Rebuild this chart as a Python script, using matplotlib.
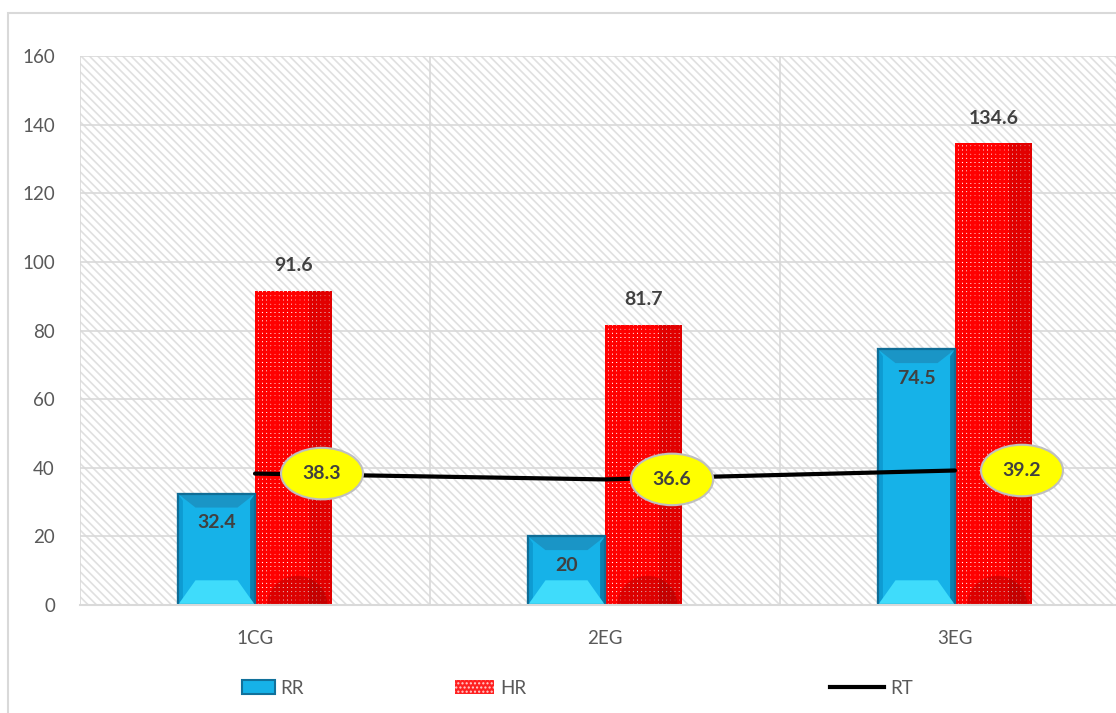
import matplotlib
matplotlib.use("Agg")
import matplotlib.pyplot as plt
from matplotlib.patches import Rectangle, Polygon, Ellipse, Patch
from matplotlib.lines import Line2D
import numpy as np

plt.rcParams['font.family'] = ['Lato', 'DejaVu Sans']
plt.rcParams['hatch.linewidth'] = 1.0

categories = ['1CG', '2EG', '3EG']
rr_values = [32.4, 20, 74.5]
hr_values = [91.6, 81.7, 134.6]
rt_values = [38.3, 36.6, 39.2]
y_ticks = [0, 20, 40, 60, 80, 100, 120, 140, 160]

W, H = 1116, 713
fig = plt.figure(figsize=(W / 100, H / 100), dpi=100)
fig.patch.set_facecolor('white')


def set_hlw(p, v):
    try:
        p.set_hatch_linewidth(v)
    except Exception:
        pass


# outer chart frame (clipped at right/bottom like the reference)
fig.add_artist(Rectangle((8 / W, -0.2), 1.3, 1 - 13 / H + 0.2, transform=fig.transFigure,
                         fill=False, edgecolor='#d9d9d9', lw=1.5, zorder=0))

ax = fig.add_axes([80 / W, 1 - 605 / H, 1050 / W, 549 / H])
ax.set_xlim(-0.5, 2.5)
ax.set_ylim(0, 160)

# hatched plot background
bg = Rectangle((-0.5, 0), 3, 160, facecolor='white', edgecolor='#e0e0e0',
               hatch='\\\\\\\\', lw=0, zorder=0)
set_hlw(bg, 1.2)
ax.add_patch(bg)

for s in ['top', 'right', 'left']:
    ax.spines[s].set_visible(False)
ax.spines['bottom'].set_color('#d9d9d9')
ax.spines['bottom'].set_linewidth(1.5)

ax.set_yticks(y_ticks)
ax.set_yticklabels([str(v) for v in y_ticks], fontsize=13.5, color='#595959')
ax.yaxis.grid(True, color='#d9d9d9', lw=1.2, zorder=0.5)
ax.set_axisbelow(True)
x = np.arange(len(categories))
ax.set_xticks(x)
ax.set_xticklabels(categories, fontsize=13.5, color='#595959')
ax.set_xticks(np.arange(-0.5, len(categories), 1.0), minor=True)
ax.xaxis.grid(True, which='minor', color='#d9d9d9', lw=1.2, zorder=0.5)
ax.tick_params(axis='both', which='both', length=0)
ax.tick_params(axis='x', pad=18)
ax.tick_params(axis='y', pad=18)

bw = 0.22
# RR bars with bevel effect
rr_bars = ax.bar(x - bw / 2, rr_values, bw, color='#16b2e8', edgecolor='#11719b', lw=1.5, zorder=2)
for b in rr_bars:
    x0, w, h = b.get_x(), b.get_width(), b.get_height()
    x1 = x0 + w
    ds = 0.014
    db = 0.05
    vb = min(7.2, h / 2.5)
    vt = 4.0
    # side bevels
    ax.add_patch(Polygon([[x0, 0], [x0, h], [x0 + ds, h - 2], [x0 + ds, 2]],
                         closed=True, facecolor='#0e9bd2', edgecolor='none', zorder=2.1))
    ax.add_patch(Polygon([[x1, 0], [x1, h], [x1 - ds, h - 2], [x1 - ds, 2]],
                         closed=True, facecolor='#0b7fae', edgecolor='none', zorder=2.1))
    # top bevel (darker)
    ax.add_patch(Polygon([[x0, h], [x1, h], [x1 - db, h - vt], [x0 + db, h - vt]],
                         closed=True, facecolor='#1a95c6', edgecolor='none', zorder=2.15))
    # bottom bevel (light cyan)
    ax.add_patch(Polygon([[x0, 0], [x1, 0], [x1 - db, vb], [x0 + db, vb]],
                         closed=True, facecolor='#3fdcfb', edgecolor='none', zorder=2.15))
    ax.add_patch(Rectangle((x0, 0), w, h, fill=False, edgecolor='#0f6d96', lw=1.6, zorder=2.2))

# HR bars: red grid over white (white dots look) and darker right side
hr_bars = ax.bar(x + bw / 2, hr_values, bw, color='#ffffff', edgecolor='none', lw=0, zorder=2)
for b in hr_bars:
    x0, w, h = b.get_x(), b.get_width(), b.get_height()
    hp = Rectangle((x0, 0), w, h, facecolor='none', edgecolor='#ff0000',
                   hatch='++++', lw=0, zorder=2.05)
    set_hlw(hp, 2.2)
    ax.add_patch(hp)
    ax.add_patch(Rectangle((x0 + 0.7 * w, 0), 0.3 * w, h, facecolor='#7a0000',
                           alpha=0.22, edgecolor='none', zorder=2.1))
    ax.add_patch(Ellipse((x0 + 0.55 * w, 0), 0.78 * w, 17, facecolor='#500000',
                         alpha=0.2, edgecolor='none', zorder=2.12))

# RT line
ax.plot(x, rt_values, color='black', lw=3, zorder=3, solid_capstyle='round')

label_kw = dict(fontsize=14, fontweight='bold', color='#404040')
for b, v in zip(rr_bars, rr_values):
    ax.annotate(f'{v:g}', (b.get_x() + b.get_width() / 2, v), xytext=(0, -29),
                textcoords='offset pixels', ha='center', va='center', zorder=5, **label_kw)
for b, v in zip(hr_bars, hr_values):
    ax.annotate(f'{v:g}', (b.get_x() + b.get_width() / 2, v), xytext=(0, 25),
                textcoords='offset pixels', ha='center', va='center', zorder=5, **label_kw)
for xi, v in zip(x, rt_values):
    ax.annotate(f'{v:g}', (xi, v), xytext=(67, 0), textcoords='offset pixels',
                ha='center', va='center', zorder=6,
                bbox=dict(boxstyle='ellipse,pad=0.5', fc='#ffff00', ec='#bfbfbf', lw=1.5),
                **label_kw)

# legends
ly = 1 - 688 / H
leg_kw = dict(loc='center left', frameon=False, borderpad=0, borderaxespad=0,
              fontsize=13.5, labelcolor='#595959', handletextpad=0.3, handleheight=0.7)
fig.legend(handles=[Patch(facecolor='#16b2e8', edgecolor='#11719b', lw=1.5)], labels=['RR'],
           bbox_to_anchor=(242 / W, ly), handlelength=1.75, **leg_kw)
hr_handle = Patch(facecolor='#ff2020', edgecolor='#ffd0d0', hatch='....', lw=0)
fig.legend(handles=[hr_handle], labels=['HR'],
           bbox_to_anchor=(455 / W, ly), handlelength=2.1, **leg_kw)
fig.legend(handles=[Line2D([0], [0], color='black', lw=3)], labels=['RT'],
           bbox_to_anchor=(830 / W, ly), handlelength=2.9, **leg_kw)

fig.savefig('out.png', dpi=100, facecolor='white')
